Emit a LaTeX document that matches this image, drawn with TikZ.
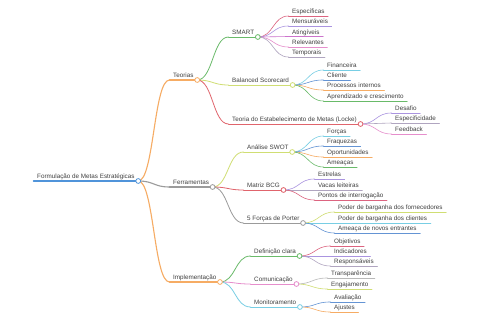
\documentclass[tikz,border=0pt]{standalone}
\usepackage{fontspec}
\setmainfont{Liberation Sans}

\definecolor{cRoot}{RGB}{80,148,218}
\definecolor{cOrange}{RGB}{246,172,100}
\definecolor{cGray}{RGB}{155,155,155}
\definecolor{cGreen}{RGB}{105,186,105}
\definecolor{cLime}{RGB}{208,222,115}
\definecolor{cRed}{RGB}{224,100,108}
\definecolor{cCyan}{RGB}{120,206,228}
\definecolor{cBlue}{RGB}{100,148,212}
\definecolor{cPurple}{RGB}{170,148,224}
\definecolor{cPink}{RGB}{230,142,204}
\definecolor{cCrimson}{RGB}{220,100,128}
\definecolor{cMagenta}{RGB}{204,115,204}
\definecolor{cMauve}{RGB}{176,165,192}
\definecolor{cSilver}{RGB}{185,185,185}

\tikzset{
  topic/.style={anchor=south west, inner xsep=3.5pt, inner ysep=0.6pt,
    text height=4.6pt, text depth=1.3pt, text=black!75,
    font=\fontsize{6.3}{7}\selectfont},
  link/.style={to path={.. controls +(15.75,0) and +(-15.75,0) .. (\tikztotarget)}},
  knob/.style={fill=white, line width=0.8pt}
}

% name, colour, line width, position, text
\newcommand{\mmnode}[5]{%
  \node[topic] (#1) at (#4) {#5};
  \draw[#2, line width=#3] (#1.south west) -- (#1.south east);
}
% parent, child, colour, line width
\newcommand{\mmlink}[4]{%
  \draw[link, #3, line width=#4] (#1.south east) to (#2.south west);
}

\begin{document}
\begin{tikzpicture}[x=1pt, y=-1pt, line cap=round]
  \useasboundingbox[fill=white] (0,0) rectangle (480,320);

  % root and first level
  \mmnode{root}{cRoot}{1.4pt}{33.5,181}{Formulação de Metas Estratégicas}
  \mmnode{teo}{cOrange}{1.1pt}{169.5,80}{Teorias}
  \mmnode{fer}{cGray}{1.1pt}{169.5,187}{Ferramentas}
  \mmnode{imp}{cOrange}{1.1pt}{169.5,282}{Implementação}
  \mmlink{root}{teo}{cOrange}{1.1pt}
  \mmlink{root}{fer}{cGray}{1.1pt}
  \mmlink{root}{imp}{cOrange}{1.1pt}

  % Teorias
  \mmnode{smart}{cGreen}{0.8pt}{228.5,37}{SMART}
  \mmnode{bsc}{cLime}{0.8pt}{228.5,85}{Balanced Scorecard}
  \mmnode{locke}{cRed}{0.8pt}{228.5,124}{Teoria do Estabelecimento de Metas (Locke)}
  \mmlink{teo}{smart}{cGreen}{0.8pt}
  \mmlink{teo}{bsc}{cLime}{0.8pt}
  \mmlink{teo}{locke}{cRed}{0.8pt}

  \mmnode{sm1}{cCrimson}{0.6pt}{288.5,16}{Específicas}
  \mmnode{sm2}{cPurple}{0.6pt}{288.5,26}{Mensuráveis}
  \mmnode{sm3}{cMagenta}{0.6pt}{288.5,36.5}{Atingíveis}
  \mmnode{sm4}{cPink}{0.6pt}{288.5,47}{Relevantes}
  \mmnode{sm5}{cMauve}{0.6pt}{288.5,57}{Temporais}
  \mmlink{smart}{sm1}{cCrimson}{0.6pt}
  \mmlink{smart}{sm2}{cPurple}{0.6pt}
  \mmlink{smart}{sm3}{cMagenta}{0.6pt}
  \mmlink{smart}{sm4}{cPink}{0.6pt}
  \mmlink{smart}{sm5}{cMauve}{0.6pt}

  \mmnode{bs1}{cCyan}{0.6pt}{323.5,70}{Financeira}
  \mmnode{bs2}{cBlue}{0.6pt}{323.5,80}{Cliente}
  \mmnode{bs3}{cOrange}{0.6pt}{323.5,90}{Processos internos}
  \mmnode{bs4}{cGreen}{0.6pt}{323.5,101}{Aprendizado e crescimento}
  \mmlink{bsc}{bs1}{cCyan}{0.6pt}
  \mmlink{bsc}{bs2}{cBlue}{0.6pt}
  \mmlink{bsc}{bs3}{cOrange}{0.6pt}
  \mmlink{bsc}{bs4}{cGreen}{0.6pt}

  \mmnode{lo1}{cPurple}{0.6pt}{391.5,113}{Desafio}
  \mmnode{lo2}{cMauve}{0.6pt}{391.5,123}{Especificidade}
  \mmnode{lo3}{cPink}{0.6pt}{391.5,134}{Feedback}
  \mmlink{locke}{lo1}{cPurple}{0.6pt}
  \mmlink{locke}{lo2}{cMauve}{0.6pt}
  \mmlink{locke}{lo3}{cPink}{0.6pt}

  % Ferramentas
  \mmnode{swot}{cLime}{0.8pt}{243.5,152}{Análise SWOT}
  \mmnode{bcg}{cRed}{0.8pt}{243.5,190}{Matriz BCG}
  \mmnode{porter}{cGray}{0.8pt}{243.5,223}{5 Forças de Porter}
  \mmlink{fer}{swot}{cLime}{0.8pt}
  \mmlink{fer}{bcg}{cRed}{0.8pt}
  \mmlink{fer}{porter}{cGray}{0.8pt}

  \mmnode{sw1}{cCyan}{0.6pt}{323.5,136}{Forças}
  \mmnode{sw2}{cBlue}{0.6pt}{323.5,146}{Fraquezas}
  \mmnode{sw3}{cOrange}{0.6pt}{323.5,157}{Oportunidades}
  \mmnode{sw4}{cGreen}{0.6pt}{323.5,167}{Ameaças}
  \mmlink{swot}{sw1}{cCyan}{0.6pt}
  \mmlink{swot}{sw2}{cBlue}{0.6pt}
  \mmlink{swot}{sw3}{cOrange}{0.6pt}
  \mmlink{swot}{sw4}{cGreen}{0.6pt}

  \mmnode{bc1}{cPurple}{0.6pt}{314.5,179}{Estrelas}
  \mmnode{bc2}{cMauve}{0.6pt}{314.5,190}{Vacas leiteiras}
  \mmnode{bc3}{cCrimson}{0.6pt}{314.5,200}{Pontos de interrogação}
  \mmlink{bcg}{bc1}{cPurple}{0.6pt}
  \mmlink{bcg}{bc2}{cMauve}{0.6pt}
  \mmlink{bcg}{bc3}{cCrimson}{0.6pt}

  \mmnode{po1}{cLime}{0.6pt}{334.5,212}{Poder de barganha dos fornecedores}
  \mmnode{po2}{cCyan}{0.6pt}{334.5,223}{Poder de barganha dos clientes}
  \mmnode{po3}{cBlue}{0.6pt}{334.5,233}{Ameaça de novos entrantes}
  \mmlink{porter}{po1}{cLime}{0.6pt}
  \mmlink{porter}{po2}{cCyan}{0.6pt}
  \mmlink{porter}{po3}{cBlue}{0.6pt}

  % Implementação
  \mmnode{defc}{cGreen}{0.8pt}{250.5,256}{Definição clara}
  \mmnode{comu}{cPink}{0.8pt}{250.5,284}{Comunicação}
  \mmnode{moni}{cCyan}{0.8pt}{250.5,307}{Monitoramento}
  \mmlink{imp}{defc}{cGreen}{0.8pt}
  \mmlink{imp}{comu}{cPink}{0.8pt}
  \mmlink{imp}{moni}{cCyan}{0.8pt}

  \mmnode{de1}{cCrimson}{0.6pt}{330.5,246}{Objetivos}
  \mmnode{de2}{cPurple}{0.6pt}{330.5,256}{Indicadores}
  \mmnode{de3}{cMauve}{0.6pt}{330.5,266}{Responsáveis}
  \mmlink{defc}{de1}{cCrimson}{0.6pt}
  \mmlink{defc}{de2}{cPurple}{0.6pt}
  \mmlink{defc}{de3}{cMauve}{0.6pt}

  \mmnode{co1}{cSilver}{0.6pt}{327.5,278}{Transparência}
  \mmnode{co2}{cLime}{0.6pt}{327.5,289}{Engajamento}
  \mmlink{comu}{co1}{cSilver}{0.6pt}
  \mmlink{comu}{co2}{cLime}{0.6pt}

  \mmnode{mo1}{cBlue}{0.6pt}{330.5,302}{Avaliação}
  \mmnode{mo2}{cOrange}{0.6pt}{330.5,312}{Ajustes}
  \mmlink{moni}{mo1}{cBlue}{0.6pt}
  \mmlink{moni}{mo2}{cOrange}{0.6pt}

  % knobs on top of the branch points
  \foreach \n/\c in {root/cRoot, teo/cOrange, fer/cGray, imp/cOrange,
      smart/cGreen, bsc/cLime, locke/cRed, swot/cLime, bcg/cRed,
      porter/cGray, defc/cGreen, comu/cPink, moni/cCyan}
    \draw[knob, draw=\c] (\n.south east) circle (2.4);
\end{tikzpicture}
\end{document}
